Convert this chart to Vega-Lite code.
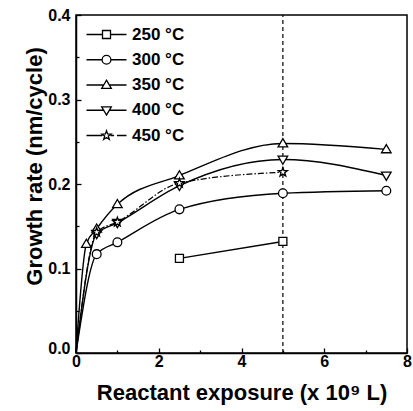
{
  "$schema": "https://vega.github.io/schema/vega-lite/v6.json",
  "width": 331,
  "height": 338,
  "autosize": {"type": "none"},
  "padding": {"left": 76, "top": 15, "right": 6, "bottom": 58},
  "config": {
    "view": {"stroke": "black", "strokeWidth": 1.5},
    "font": "Liberation Sans",
    "background": "white"
  },
  "datasets": {
    "pts": [
      {"series": "250 °C", "x": 2.5, "y": 0.112},
      {"series": "250 °C", "x": 5, "y": 0.132},
      {"series": "300 °C", "x": 0, "y": 0},
      {"series": "300 °C", "x": 0.5, "y": 0.117},
      {"series": "300 °C", "x": 1, "y": 0.131},
      {"series": "300 °C", "x": 2.5, "y": 0.170},
      {"series": "300 °C", "x": 5, "y": 0.189},
      {"series": "300 °C", "x": 7.5, "y": 0.192},
      {"series": "350 °C", "x": 0, "y": 0},
      {"series": "350 °C", "x": 0.25, "y": 0.129},
      {"series": "350 °C", "x": 0.5, "y": 0.147},
      {"series": "350 °C", "x": 1, "y": 0.176},
      {"series": "350 °C", "x": 2.5, "y": 0.210},
      {"series": "350 °C", "x": 5, "y": 0.248},
      {"series": "350 °C", "x": 7.5, "y": 0.241},
      {"series": "400 °C", "x": 0, "y": 0},
      {"series": "400 °C", "x": 0.5, "y": 0.141},
      {"series": "400 °C", "x": 1, "y": 0.154},
      {"series": "400 °C", "x": 2.5, "y": 0.198},
      {"series": "400 °C", "x": 5, "y": 0.229},
      {"series": "400 °C", "x": 7.5, "y": 0.210},
      {"series": "450 °C", "x": 0, "y": 0},
      {"series": "450 °C", "x": 0.5, "y": 0.143},
      {"series": "450 °C", "x": 1, "y": 0.155},
      {"series": "450 °C", "x": 2.5, "y": 0.201},
      {"series": "450 °C", "x": 5, "y": 0.214}
    ],
    "guide": [
      {"x": 5, "y": 0},
      {"x": 5, "y": 0.4}
    ]
  },
  "encoding": {
    "x": {
      "field": "x",
      "type": "quantitative",
      "scale": {"domain": [0, 8], "nice": false, "zero": false},
      "axis": {
        "title": "Reactant exposure (x 10⁹ L)",
        "values": [0, 1, 2, 3, 4, 5, 6, 7, 8],
        "labelExpr": "datum.value % 2 === 0 ? datum.label : ''",
        "grid": false,
        "domainColor": "black",
        "domainWidth": 1.5,
        "tickColor": "black",
        "tickWidth": 1.3,
        "tickSize": {"condition": {"test": "datum.value % 2 === 0", "value": -5}, "value": -3},
        "labelFont": "Liberation Sans",
        "labelFontWeight": "bold",
        "labelFontSize": 16,
        "labelColor": "black",
        "labelPadding": 5,
        "labelFlush": false,
        "titleFont": "Liberation Sans",
        "titleFontSize": 22,
        "titleFontWeight": "bold",
        "titleColor": "black",
        "titlePadding": 13
      }
    },
    "y": {
      "field": "y",
      "type": "quantitative",
      "scale": {"domain": [0, 0.4], "nice": false},
      "axis": {
        "title": "Growth rate  (nm/cycle)",
        "values": [0, 0.05, 0.1, 0.15, 0.2, 0.25, 0.3, 0.35, 0.4],
        "labelExpr": "round(datum.value * 100) % 10 === 0 ? format(datum.value, '.1f') : ''",
        "labelBaseline": {"condition": {"test": "datum.value === 0", "value": "alphabetic"}, "value": "middle"},
        "grid": false,
        "domainColor": "black",
        "domainWidth": 1.5,
        "tickColor": "black",
        "tickWidth": 1.3,
        "tickSize": {"condition": {"test": "round(datum.value * 100) % 10 === 0", "value": -5}, "value": -3},
        "labelFont": "Liberation Sans",
        "labelFontWeight": "bold",
        "labelFontSize": 16,
        "labelColor": "black",
        "labelPadding": 11,
        "labelFlush": false,
        "titleFont": "Liberation Sans",
        "titleFontSize": 22,
        "titleFontWeight": "bold",
        "titleColor": "black",
        "titlePadding": 1,
        "titleY": 151
      }
    }
  },
  "resolve": {"scale": {"shape": "independent"}, "legend": {"shape": "independent"}},
  "layer": [
    {
      "data": {"name": "guide"},
      "mark": {"type": "line", "color": "black", "strokeWidth": 1.2, "strokeDash": [4, 3]},
      "encoding": {}
    },
    {
      "data": {"name": "pts"},
      "transform": [{"filter": "datum.series !== '450 °C'"}],
      "mark": {"type": "line", "color": "black", "strokeWidth": 1.4, "interpolate": "monotone"},
      "encoding": {
        "detail": {"field": "series"}
      }
    },
    {
      "data": {"name": "pts"},
      "transform": [{"filter": "datum.series === '450 °C'"}],
      "mark": {"type": "line", "color": "black", "strokeWidth": 1.2, "interpolate": "monotone", "strokeDash": [6, 2, 1.5, 2]},
      "encoding": {
        "detail": {"field": "series"}
      }
    },
    {
      "data": {"name": "pts"},
      "transform": [{"filter": "datum.x > 0"}],
      "mark": {"type": "point", "filled": true, "fill": "white", "stroke": "black", "strokeWidth": 1.3, "size": 64, "opacity": 1},
      "encoding": {
        "shape": {
          "field": "series",
          "type": "nominal",
          "scale": {
            "range": [
              "M-1,-1H1V1H-1Z",
              "M1.1,0A1.1,1.1,0,1,1,-1.1,0A1.1,1.1,0,1,1,1.1,0Z",
              "M0,-1.2L1.2,0.85H-1.2Z",
              "M0,1.2L1.2,-0.85H-1.2Z",
              "M0,-1.2L0.28,-0.39L1.14,-0.37L0.46,0.15L0.71,0.97L0,0.49L-0.71,0.97L-0.46,0.15L-1.14,-0.37L-0.28,-0.39Z"
            ]
          },
          "legend": null
        }
      }
    },
    {
      "data": {"name": "pts"},
      "transform": [{"filter": "datum.x > 0"}],
      "mark": {"type": "point", "filled": false, "stroke": "black", "strokeWidth": 1.3, "size": 64, "opacity": 0},
      "encoding": {
        "shape": {
          "field": "series",
          "type": "nominal",
          "scale": {
            "domain": ["250 °C", "300 °C", "350 °C", "400 °C", "450 °C"],
            "range": [
              "M-5,0H-1M1,0H5M-1,-1H1V1H-1Z",
              "M-5,0H-1.1M1.1,0H5M1.1,0A1.1,1.1,0,1,1,-1.1,0A1.1,1.1,0,1,1,1.1,0Z",
              "M-5,0H-0.6M0.6,0H5M0,-1.2L1.2,0.85H-1.2Z",
              "M-5,0H-0.6M0.6,0H5M0,1.2L1.2,-0.85H-1.2Z",
              "M-5,0H-1M1,0H1.9M2.6,0H5M0,-1.2L0.28,-0.39L1.14,-0.37L0.46,0.15L0.71,0.97L0,0.49L-0.71,0.97L-0.46,0.15L-1.14,-0.37L-0.28,-0.39Z"
            ]
          },
          "legend": {
            "title": null,
            "orient": "none",
            "legendX": 22,
            "legendY": 11,
            "symbolSize": 64,
            "symbolOpacity": 1,
            "symbolStrokeColor": "black",
            "symbolFillColor": "white",
            "symbolStrokeWidth": 1.3,
            "labelFont": "Liberation Sans",
            "labelFontWeight": "bold",
            "labelFontSize": 17,
            "labelColor": "black",
            "labelOffset": 17,
            "rowPadding": 7.25
          }
        }
      }
    }
  ]
}
